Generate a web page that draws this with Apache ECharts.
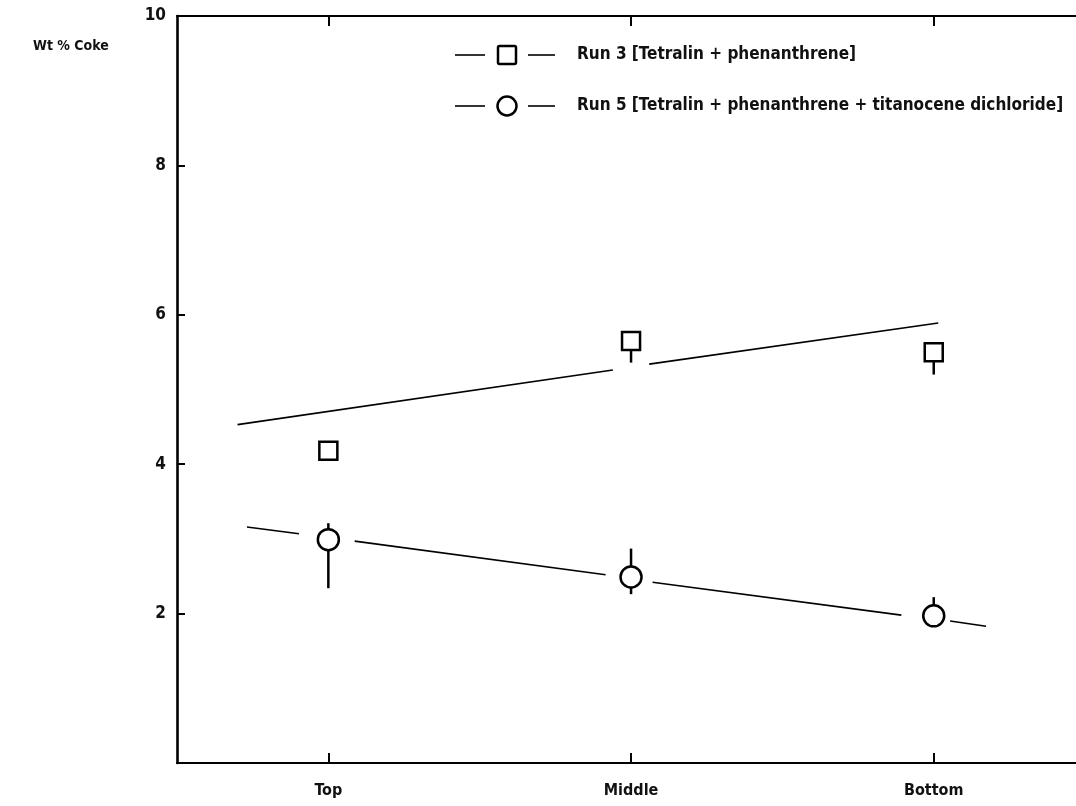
<!DOCTYPE html>
<html>
<head>
<meta charset="utf-8">
<script src="https://cdn.jsdelivr.net/npm/echarts@6/dist/echarts.min.js"></script>
<style>
html,body{margin:0;padding:0;background:#fff;}
#chart{width:1076px;height:806px;}
</style>
</head>
<body>
<div id="chart"></div>
<script>
// ---- data ----
const categories = ['Top', 'Middle', 'Bottom'];
const catPositions = [0.5, 1.5, 2.5];
const yTicks = [0, 2, 4, 6, 8, 10];

const run3Name = 'Run 3 [Tetralin + phenanthrene]';
const run5Name = 'Run 5 [Tetralin + phenanthrene + titanocene dichloride]';

const run3Values = [4.18, 5.65, 5.50];
const run5Values = [2.99, 2.49, 1.97];

// error bars: [low, high] (null = none)
const run3Errors = [null, [5.36, 5.65], [5.20, 5.50]];
const run5Errors = [[2.34, 3.21], [2.26, 2.87], [1.97, 2.22]];

// visible trend-line segments, endpoints [x, y]
const run3TrendSegments = [
  [[0.20, 4.53], [1.44, 5.26]],
  [[1.56, 5.34], [2.515, 5.89]]
];
const run5TrendSegments = [
  [[0.231, 3.16], [0.403, 3.07]],
  [[0.587, 2.97], [1.416, 2.52]],
  [[1.571, 2.42], [2.393, 1.98]],
  [[2.554, 1.90], [2.673, 1.83]]
];

// ---- chart ----
const FONT = '"Liberation Sans Narrow", "DejaVu Sans Condensed", "Liberation Sans", sans-serif';
const chart = echarts.init(document.getElementById('chart'), null, {renderer: 'canvas'});

function errorData(errs) {
  const out = [];
  errs.forEach((e, i) => { if (e) out.push([catPositions[i], e[0], e[1]]); });
  return out;
}

const series = [];
run3TrendSegments.concat(run5TrendSegments).forEach(seg => {
  series.push({
    type: 'line', data: seg, symbol: 'none', silent: true, z: 2,
    lineStyle: {color: '#000', width: 1.6}
  });
});
[run3Errors, run5Errors].forEach(errs => {
  series.push({
    type: 'custom', z: 3, silent: true,
    data: errorData(errs),
    renderItem: function (params, api) {
      const p1 = api.coord([api.value(0), api.value(1)]);
      const p2 = api.coord([api.value(0), api.value(2)]);
      return {type: 'line', shape: {x1: p1[0], y1: p1[1], x2: p2[0], y2: p2[1]},
              style: {stroke: '#000', lineWidth: 2.5}};
    }
  });
});
series.push({
  name: run3Name, type: 'scatter', z: 5,
  data: catPositions.map((x, i) => [x, run3Values[i]]),
  symbol: 'rect', symbolSize: 18,
  itemStyle: {color: '#fff', borderColor: '#000', borderWidth: 2.5, opacity: 1}
});
series.push({
  name: run5Name, type: 'scatter', z: 5,
  data: catPositions.map((x, i) => [x, run5Values[i]]),
  symbol: 'circle', symbolSize: 21,
  itemStyle: {color: '#fff', borderColor: '#000', borderWidth: 2.5, opacity: 1}
});

// legend drawn as graphic: line - marker - line, then label
function legendRow(y, markerShape, label) {
  const marker = markerShape === 'rect'
    ? {type: 'rect', shape: {x: 498, y: y - 9, width: 18, height: 18, r: 1.5},
       style: {fill: '#fff', stroke: '#000', lineWidth: 2.5}}
    : {type: 'circle', shape: {cx: 507, cy: y, r: 9.5},
       style: {fill: '#fff', stroke: '#000', lineWidth: 2.5}};
  return [
    {type: 'line', shape: {x1: 455, y1: y, x2: 485, y2: y}, style: {stroke: '#000', lineWidth: 1.6}},
    marker,
    {type: 'line', shape: {x1: 528, y1: y, x2: 555, y2: y}, style: {stroke: '#000', lineWidth: 1.6}},
    {type: 'text', x: 577, y: y, style: {text: label, fill: '#111', font: 'bold 17px ' + FONT, textVerticalAlign: 'middle', verticalAlign: 'middle'}}
  ];
}

const option = {
  backgroundColor: '#fff',
  animation: false,
  title: {
    text: 'Wt % Coke', left: 28, top: 34,
    textStyle: {fontFamily: FONT, fontWeight: 'bold', fontSize: 14, color: '#111'}
  },
  graphic: legendRow(55, 'rect', run3Name).concat(legendRow(106, 'circle', run5Name)),
  grid: {left: 177, right: 0, top: 16, bottom: 43},
  xAxis: [
    {
      type: 'value', min: 0, max: 2.97, position: 'bottom',
      axisLine: {show: true, lineStyle: {color: '#000', width: 2.2}},
      axisTick: {show: true, inside: true, length: 10, customValues: catPositions, lineStyle: {color: '#000', width: 2}},
      axisLabel: {
        customValues: catPositions, margin: 20,
        formatter: v => categories[catPositions.indexOf(v)] || '',
        fontFamily: FONT, fontWeight: 'bold', fontSize: 16, color: '#111'
      },
      splitLine: {show: false}
    },
    {
      type: 'value', min: 0, max: 2.97, position: 'top',
      axisLine: {show: true, lineStyle: {color: '#000', width: 2}},
      axisTick: {show: true, inside: true, length: 10, customValues: catPositions, lineStyle: {color: '#000', width: 2}},
      axisLabel: {show: false},
      splitLine: {show: false}
    }
  ],
  yAxis: {
    type: 'value', min: 0, max: 10, interval: 2,
    axisLine: {show: true, lineStyle: {color: '#000', width: 2.6}},
    axisTick: {show: true, inside: true, length: 8, customValues: yTicks.slice(1, 5), lineStyle: {color: '#000', width: 2}},
    axisLabel: {
      margin: 11,
      formatter: v => (v === 0 ? '' : String(v)),
      fontFamily: FONT, fontWeight: 'bold', fontSize: 17, color: '#111'
    },
    splitLine: {show: false}
  },
  series: series
};
chart.setOption(option);
</script>
</body>
</html>
